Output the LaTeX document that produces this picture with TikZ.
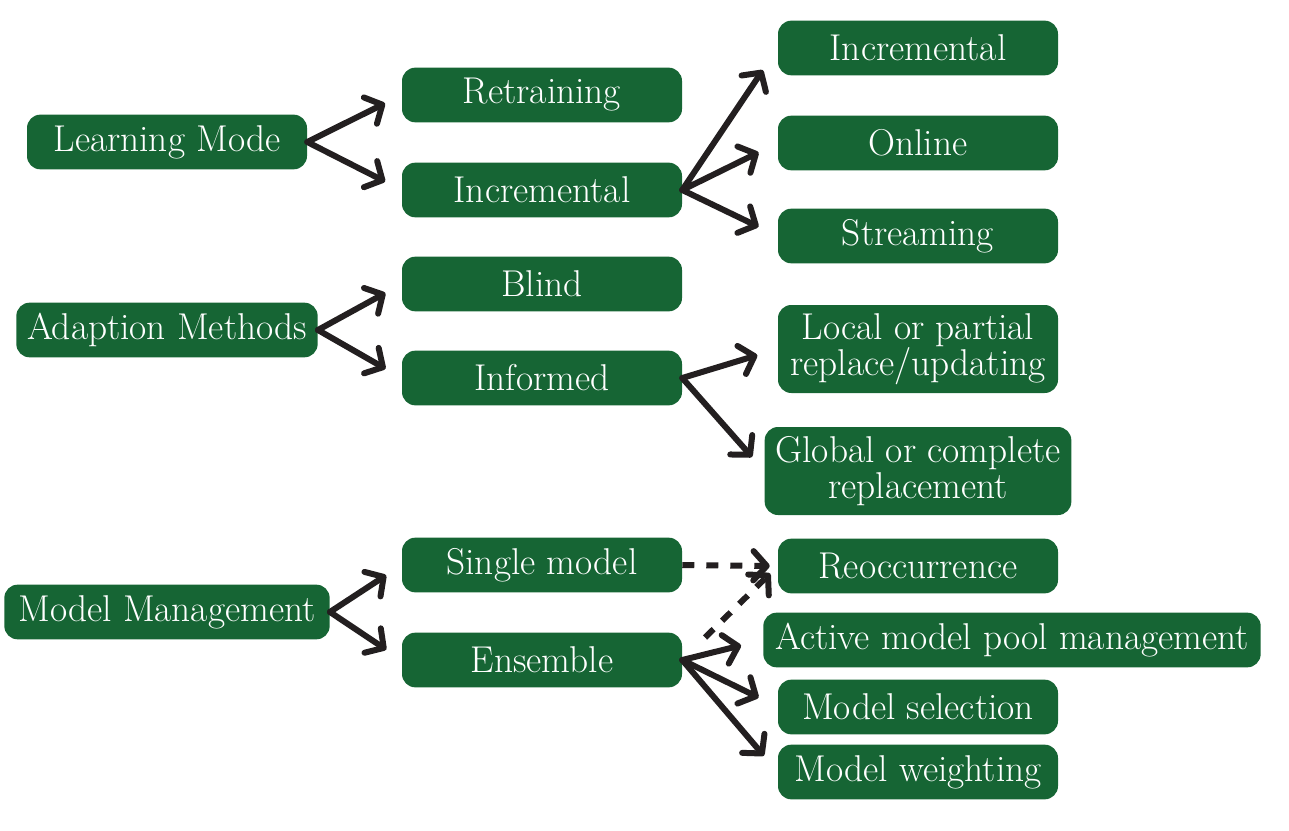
\documentclass[tikz,border=0pt]{standalone}
\usepackage{tikz}
\usetikzlibrary{arrows.meta}

\definecolor{boxgreen}{RGB}{22,101,52}
\definecolor{arrowblack}{RGB}{35,31,32}

\begin{document}
\begin{tikzpicture}[
  x=0.75pt, y=-0.75pt,
  box/.style = {fill=boxgreen, text=white, rounded corners=10pt, minimum height=41pt, minimum width=210pt, align=center, inner sep=3pt, font=\fontsize{28}{27}\selectfont},
  arrow/.style = {arrowblack, line width=4.5pt, line cap=round, -{Straight Barb[length=10pt, width=22pt, round]}},
  darrow/.style = {arrow, dash pattern=on 9pt off 9pt, line cap=butt}
]

  \useasboundingbox (0,0) rectangle (1289,831);

  % Learning mode
  \node[box] (learning) at (167,142) {Learning Mode};
  \node[box] (retraining) at (542,95) {Retraining};
  \node[box] (incremental) at (542,190) {Incremental};
  \node[box] (incr) at (918,48) {Incremental};
  \node[box] (online) at (918,143) {Online};
  \node[box] (streaming) at (918,236) {Streaming};

  % Adaption methods
  \node[box, minimum width=226pt] (adaption) at (167,330) {Adaption Methods};
  \node[box] (blind) at (542,284) {Blind};
  \node[box] (informed) at (542,378) {Informed};
  \node[box, minimum height=66pt] (local) at (918,349) {Local or partial\\replace/updating};
  \node[box, minimum height=66pt, minimum width=230pt] (global) at (918,471) {Global or complete\\replacement};

  % Model management
  \node[box, minimum width=244pt] (management) at (167,612) {Model Management};
  \node[box] (single) at (542,565) {Single model};
  \node[box] (ensemble) at (542,660) {Ensemble};
  \node[box] (reocc) at (918,566) {Reoccurrence};
  \node[box, minimum width=373pt] (pool) at (1012,640) {Active model pool management};
  \node[box] (selection) at (918,707) {Model selection};
  \node[box] (weighting) at (918,772) {Model weighting};

  % learning mode arrows
  \draw[arrow, shorten >=14pt] (learning.east) -- (retraining.west);
  \draw[arrow, shorten >=14pt] (learning.east) -- (incremental.west);
  \draw[arrow, shorten >=20pt] (incremental.east) -- (incr.west);
  \draw[arrow, shorten >=16pt] (incremental.east) -- (online.west);
  \draw[arrow, shorten >=16pt] (incremental.east) -- (streaming.west);

  % adaption arrows
  \draw[arrow, shorten >=14pt] (adaption.east) -- (blind.west);
  \draw[arrow, shorten >=14pt] (adaption.east) -- (informed.west);
  \draw[arrow, shorten >=16pt] (informed.east) -- (local.west);
  \draw[arrow, shorten >=14pt] (informed.east) -- (global.west);

  % management arrows
  \draw[arrow, shorten >=14pt] (management.east) -- (single.west);
  \draw[arrow, shorten >=14pt] (management.east) -- (ensemble.west);
  \draw[arrow, shorten >=17pt] (ensemble.east) -- (pool.west);
  \draw[arrow, shorten >=16pt] (ensemble.east) -- (selection.west);
  \draw[arrow, shorten >=16pt] (ensemble.east) -- (weighting.west);
  \draw[darrow, shorten >=6pt] (single.east) -- (reocc.west);
  \draw[darrow, shorten <=24pt, shorten >=8pt] (ensemble.east) -- (reocc.west);

\end{tikzpicture}
\end{document}
